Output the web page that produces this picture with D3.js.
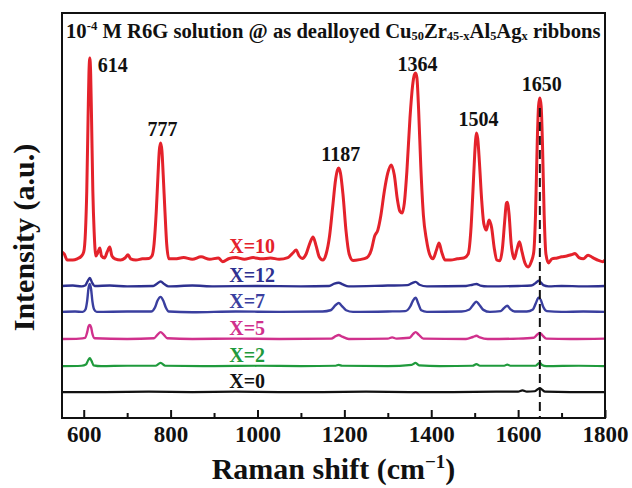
<!DOCTYPE html>
<html>
<head>
<meta charset="utf-8">
<script src="https://cdn.jsdelivr.net/npm/d3@7"></script>
<style>
  html, body { margin: 0; padding: 0; background: #fff; }
  svg { display: block; }
  text { font-family: "Liberation Serif", "Times New Roman", serif; font-weight: bold; }
</style>
</head>
<body>
<svg id="chart" width="632" height="488"></svg>
<script>
// Raman shift axis
const xDomain = [550, 1800];
const majorTicks = [600, 800, 1000, 1200, 1400, 1600, 1800];
const minorTicks = [700, 900, 1100, 1300, 1500, 1700];

// Spectra as plotted (offset stacked), [Raman shift cm^-1, intensity a.u.]
const specX10 = [
  [550,41.0],[555,40.5],[562,39.0],[575,39.0],[585,39.3],[595,40.0],[600,41.0],[604,46],[607,56],[610,74],
  [612,85],[614,88.9],[616,85],[618,74],[621,56],[624,46],[628,40.0],[633,41.0],[637,42.0],[641,40.0],
  [648,39.5],[654,41.0],[660,42.2],[665,40.0],[672,39.3],[685,39.0],[695,39.5],[702,40.3],[708,39.3],[720,39.0],
  [735,39.3],[750,39.4],[757,40.0],[762,43],[767,51],[771,60],[774,66],[777,67.9],[780,66],[783,60],
  [787,51],[791,43],[796,39.3],[810,39.3],[830,39.6],[850,39.2],[870,39.8],[890,39.2],[910,39.5],[920,38.6],
  [935,39.4],[950,39.6],[970,39.2],[990,39.6],[1010,39.3],[1030,39.5],[1050,39.2],[1070,39.6],[1082,40.8],[1089,41.5],
  [1096,40.0],[1103,39.4],[1112,40.5],[1120,43.0],[1128,44.7],[1135,42.5],[1142,39.8],[1150,39.0],[1158,40.5],[1166,45],
  [1173,52],[1180,59],[1184,61.2],[1187,61.7],[1191,60.5],[1197,55],[1204,46],[1211,40.5],[1220,38.9],[1235,39.1],
  [1252,39.6],[1262,41.5],[1270,45.0],[1277,46.4],[1284,50],[1292,56],[1300,60.5],[1308,62.5],[1315,60],[1322,54],
  [1328,51],[1333,50.6],[1338,53],[1344,61],[1351,74],[1357,82],[1361,84.7],[1364,85.2],[1367,84],[1371,76],
  [1376,62],[1382,50],[1389,44],[1396,40.5],[1404,39.3],[1412,41.5],[1418,43.2],[1424,41.0],[1432,39.0],[1445,39.0],
  [1460,39.3],[1475,39.5],[1485,40.5],[1491,46],[1496,56],[1500,65],[1502,68.5],[1504,70.4],[1507,69],[1511,63],
  [1516,54],[1521,48],[1527,46.4],[1533,48.9],[1539,47],[1545,42],[1551,39.0],[1558,38.8],[1564,42],[1569,48.5],
  [1573,53],[1575,53.3],[1579,50.5],[1584,43],[1591,39.3],[1597,41.5],[1603,43.5],[1609,41],[1616,38.2],[1623,37.3],
  [1630,38.5],[1636,41],[1640,50],[1644,68],[1647,77],[1650,79.0],[1653,77],[1656,68],[1660,50],[1664,40.5],
  [1670,38.3],[1678,39.3],[1690,39.5],[1700,39.8],[1712,40.0],[1722,40.3],[1731,40.6],[1740,39.6],[1750,39.3],[1761,40.2],
  [1772,39.6],[1785,38.9],[1795,38.6],[1800,39.0]
];
const specX12 = [
  [550,32.6],[575,32.7],[595,32.5],[604,32.8],[609,33.8],[614,34.6],[619,33.5],[625,32.6],[660,32.7],[700,32.5],
  [760,32.6],[768,33.1],[777,33.7],[786,33.0],[795,32.5],[850,32.7],[900,32.5],[1000,32.6],[1100,32.5],[1165,32.6],
  [1177,33.2],[1187,33.4],[1196,33.0],[1210,32.5],[1300,32.7],[1345,32.8],[1356,33.3],[1364,33.6],[1373,32.9],[1390,32.5],
  [1480,32.6],[1495,32.9],[1504,33.1],[1513,32.7],[1530,32.5],[1600,32.6],[1630,32.7],[1640,33.3],[1647,33.9],[1652,33.5],
  [1658,32.8],[1670,32.5],[1700,32.6],[1750,32.5],[1800,32.6]
];
const specX7 = [
  [550,26.2],[580,26.3],[598,26.2],[604,26.8],[608,29.0],[611,32.0],[614,33.1],[617,31.8],[620,28.8],[624,26.8],
  [630,26.2],[700,26.3],[755,26.3],[764,27.3],[770,29.0],[777,29.9],[783,29.0],[789,27.3],[796,26.3],[850,26.1],
  [950,26.3],[1050,26.2],[1150,26.3],[1168,26.6],[1180,27.9],[1187,28.4],[1194,27.7],[1204,26.6],[1220,26.2],[1300,26.3],
  [1340,26.4],[1352,27.6],[1358,29.0],[1364,29.7],[1370,28.3],[1377,26.6],[1390,26.2],[1470,26.3],[1488,26.8],[1497,28.0],
  [1504,28.7],[1511,27.9],[1520,26.7],[1535,26.2],[1560,26.4],[1568,27.2],[1575,27.7],[1582,26.9],[1592,26.3],[1620,26.3],
  [1634,26.8],[1641,28.4],[1647,29.7],[1652,29.2],[1658,27.4],[1666,26.4],[1700,26.2],[1750,26.3],[1800,26.2]
];
const specX5 = [
  [550,19.5],[590,19.6],[603,19.8],[608,21.2],[611,22.6],[614,23.0],[617,22.4],[620,20.8],[625,19.7],[700,19.5],
  [762,19.7],[770,20.6],[777,21.2],[784,20.6],[792,19.7],[850,19.5],[950,19.6],[1050,19.5],[1170,19.6],[1180,20.2],
  [1187,20.5],[1195,20.1],[1210,19.5],[1300,19.6],[1310,19.9],[1320,19.6],[1350,19.8],[1358,20.7],[1364,21.2],[1371,20.6],
  [1382,19.6],[1480,19.5],[1496,20.0],[1504,20.3],[1512,19.9],[1530,19.5],[1600,19.6],[1636,19.8],[1644,20.6],[1650,21.0],
  [1656,20.4],[1665,19.6],[1720,19.5],[1800,19.6]
];
const specX2 = [
  [550,12.8],[595,12.9],[605,13.2],[610,14.2],[614,14.8],[618,14.1],[623,13.0],[640,12.8],[700,12.9],[765,12.9],
  [777,13.6],[788,12.9],[900,12.8],[1000,12.9],[1100,12.8],[1180,12.9],[1187,13.1],[1195,12.9],[1300,12.8],[1355,13.1],
  [1364,13.6],[1372,13.0],[1420,12.8],[1495,12.9],[1504,13.3],[1512,12.9],[1568,12.9],[1575,13.2],[1582,12.9],[1640,12.9],
  [1646,13.4],[1650,13.6],[1655,13.1],[1665,12.8],[1740,12.9],[1800,12.8]
];
const specX0 = [
  [550,6.4],[650,6.4],[750,6.5],[850,6.4],[950,6.5],[1050,6.4],[1150,6.4],[1250,6.5],[1350,6.4],[1450,6.4],
  [1550,6.5],[1600,6.5],[1610,6.8],[1620,6.5],[1638,6.6],[1645,7.1],[1650,7.4],[1655,7.0],[1662,6.5],[1720,6.4],
  [1800,6.4]
];

const seriesNames = ["X=10", "X=12", "X=7", "X=5", "X=2", "X=0"];
const seriesData = [specX10, specX12, specX7, specX5, specX2, specX0];
const seriesBaselines = [39.3, 32.6, 26.2, 19.5, 12.8, 6.4];
const seriesColors = ["#e4222b", "#2e3190", "#3a3f9f", "#d0308c", "#1f9a3c", "#111111"];
const seriesWidths = [3, 2.4, 2.4, 2.4, 2.2, 2.2];

// Peak positions annotated on the X=10 spectrum
const peakLabels = [614, 777, 1187, 1364, 1504, 1650];
const markerLine = 1650;

const svg = d3.select("#chart");
const margin = { left: 62, right: 27, top: 13, bottom: 70 };
const W = 632, H = 488;

const x = d3.scaleLinear().domain(xDomain).range([margin.left, W - margin.right]);
const y = d3.scaleLinear().domain([0, 100]).range([H - margin.bottom, margin.top]);

const plotBottom = H - margin.bottom;

// spectra
const line = d3.line().x(d => x(d[0])).y(d => y(d[1])).curve(d3.curveMonotoneX);
svg.append("clipPath").attr("id", "plotclip").append("rect")
  .attr("x", margin.left).attr("y", margin.top)
  .attr("width", W - margin.left - margin.right).attr("height", plotBottom - margin.top);

const g = svg.append("g").attr("clip-path", "url(#plotclip)");
seriesData.forEach((s, i) => {
  g.append("path").datum(s)
    .attr("fill", "none")
    .attr("stroke", seriesColors[i])
    .attr("stroke-width", seriesWidths[i])
    .attr("stroke-linejoin", "round")
    .attr("d", line);
});

// dashed guide through the 1650 band
const peakVal = specX10.find(d => d[0] === markerLine)[1];
g.append("line")
  .attr("x1", x(markerLine)).attr("x2", x(markerLine))
  .attr("y1", y(peakVal) + 10).attr("y2", plotBottom)
  .attr("stroke", "#111").attr("stroke-width", 2)
  .attr("stroke-dasharray", "9,5");

// series labels
seriesNames.forEach((n, i) => {
  svg.append("text")
    .attr("x", x(935))
    .attr("y", y(seriesBaselines[i]) - (i === 0 ? 6 : 4))
    .attr("font-size", 20)
    .attr("fill", seriesColors[i])
    .text(n);
});

// peak labels
peakLabels.forEach((p, i) => {
  const v = specX10.find(d => d[0] === p)[1];
  const t = svg.append("text").attr("font-size", 20).attr("fill", "#111").text(p);
  if (i === 0) {
    t.attr("x", x(p) + 8).attr("y", y(v) + 14);
  } else {
    t.attr("x", x(p) + 2).attr("y", y(v) - (p === 1364 ? 2 : 7)).attr("text-anchor", "middle");
  }
});

// frame
svg.append("rect")
  .attr("x", margin.left).attr("y", margin.top)
  .attr("width", W - margin.left - margin.right).attr("height", plotBottom - margin.top)
  .attr("fill", "none").attr("stroke", "#111").attr("stroke-width", 2);

// x axis with inward ticks
const xAxis = d3.axisBottom(x).tickValues(majorTicks).tickSize(-8).tickPadding(8).tickFormat(d3.format("d"));
const ax = svg.append("g").attr("transform", `translate(0,${plotBottom})`).call(xAxis);
ax.select(".domain").remove();
ax.selectAll(".tick line").attr("stroke", "#111").attr("stroke-width", 2);
ax.selectAll(".tick text").attr("font-size", 23).attr("fill", "#111")
  .style("font-family", '"Liberation Serif", serif').style("font-weight", "bold");
const minorAxis = d3.axisBottom(x).tickValues(minorTicks).tickSize(-5).tickFormat("");
const mx = svg.append("g").attr("transform", `translate(0,${plotBottom})`).call(minorAxis);
mx.select(".domain").remove();
mx.selectAll(".tick line").attr("stroke", "#111").attr("stroke-width", 2);

// axis titles
const xt = svg.append("text").attr("x", x(1175)).attr("y", 479).attr("text-anchor", "middle").attr("font-size", 30).attr("fill", "#111");
xt.append("tspan").text("Raman shift (cm");
xt.append("tspan").attr("font-size", 19).attr("dy", -11).text("\u22121");
xt.append("tspan").attr("dy", 11).text(")");

svg.append("text")
  .attr("transform", `translate(34,${(margin.top + plotBottom) / 2 + 22}) rotate(-90)`)
  .attr("text-anchor", "middle").attr("font-size", 30).attr("fill", "#111")
  .text("Intensity (a.u.)");

// title inside the frame
const title = svg.append("text").attr("x", 66).attr("y", 38).attr("font-size", 18).attr("fill", "#111");
const parts = [
  ["10", 0, 1], ["-4", -7, 0.62], [" M R6G solution @ as dealloyed Cu", 7, 1],
  ["50", 2, 0.6], ["Zr", -2, 1], ["45-x", 2, 0.6], ["Al", -2, 1], ["5", 2, 0.6],
  ["Ag", -2, 1], ["x", 2, 0.6], [" ribbons", -2, 1]
];
parts.forEach(([t, dy, s]) => {
  title.append("tspan").attr("dy", dy).attr("data-s", s).attr("font-size", 18 * s).text(t);
});
const targetW = 535;
const w0 = title.node().getComputedTextLength();
const k = targetW / w0;
title.selectAll("tspan").each(function () {
  const s = +this.getAttribute("data-s");
  const dy = +this.getAttribute("dy");
  d3.select(this).attr("font-size", 18 * k * s).attr("dy", dy * k);
});
</script>
</body>
</html>
